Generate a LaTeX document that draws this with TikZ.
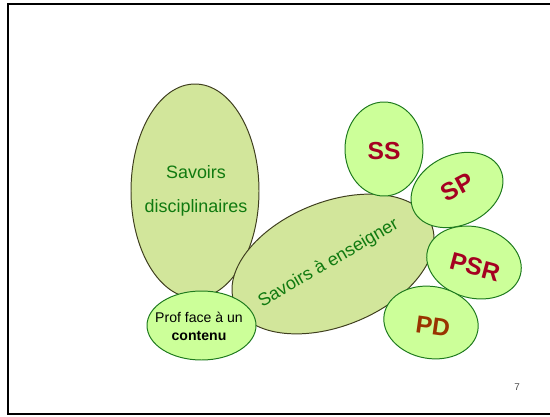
\documentclass[tikz,border=0pt]{standalone}
\usepackage{fontspec}
\setmainfont{Liberation Sans}
\usepackage{tikz}
\usetikzlibrary{positioning}
\definecolor{olivefill}{HTML}{D2E69B}
\definecolor{olivedraw}{HTML}{3F3F1F}
\definecolor{leaffill}{HTML}{CCFF99}
\definecolor{leafdraw}{HTML}{1E7A1E}
\definecolor{savgreen}{HTML}{107A10}
\definecolor{tagred}{HTML}{A50021}
\definecolor{tagbrown}{HTML}{993300}

\begin{document}
\begin{tikzpicture}[x=0.025cm, y=0.025cm,
    bigell/.style={draw=olivedraw, fill=olivefill, line width=0.7pt},
    smallell/.style={draw=leafdraw, fill=leaffill, line width=0.7pt},
    savtxt/.style={text=savgreen, font=\fontsize{12.75}{24}\selectfont, align=center},
    tagtxt/.style={text=tagred, font=\fontsize{17.5}{20}\selectfont\bfseries}]
    \useasboundingbox (0,0) rectangle (550,416);
    % slide frame
    \draw[line width=1.4pt] (550,412) -- (8,412) -- (8,2) -- (550,2);
    % Savoirs disciplinaires
    \draw[bigell] (195,225) ellipse (64 and 107);
    \node[savtxt] (disc) at (196,225) {Savoirs\\disciplinaires};
    % Savoirs a enseigner
    \draw[bigell, rotate around={22:(333,152)}] (333,152) ellipse (106 and 62);
    \node[savtxt, rotate=30] (ens) at (328.5,152.5) {Savoirs à enseigner};
    % Prof face a un contenu
    \draw[smallell] (201.5,90.5) ellipse (54.5 and 34.5);
    \node[align=center, font=\fontsize{10}{12.8}\selectfont] (prof) at (199,90)
      {Prof face à un\\\textbf{contenu}};
    % the four small ones
    \draw[smallell] (384,267) ellipse (39 and 47);
    \node[tagtxt] (ss) at (384,265) {SS};
    \draw[smallell, rotate around={25:(457,226)}] (457,226) ellipse (48 and 35);
    \node[tagtxt, rotate=28] (sp) at (457.5,229) {SP};
    \draw[smallell, rotate around={-15:(474,153.5)}] (474,153.5) ellipse (48 and 35.5);
    \node[tagtxt, rotate=-15] (psr) at (475,149) {PSR};
    \draw[smallell, rotate around={-10:(431,93.5)}] (431,93.5) ellipse (47.5 and 36);
    \node[tagtxt, text=tagbrown, rotate=-8] (pd) at (433,90) {PD};
    % page number
    \node[text=black!70, font=\fontsize{7}{8}\selectfont] (page) at (517,29) {7};
  \end{tikzpicture}
\end{document}
